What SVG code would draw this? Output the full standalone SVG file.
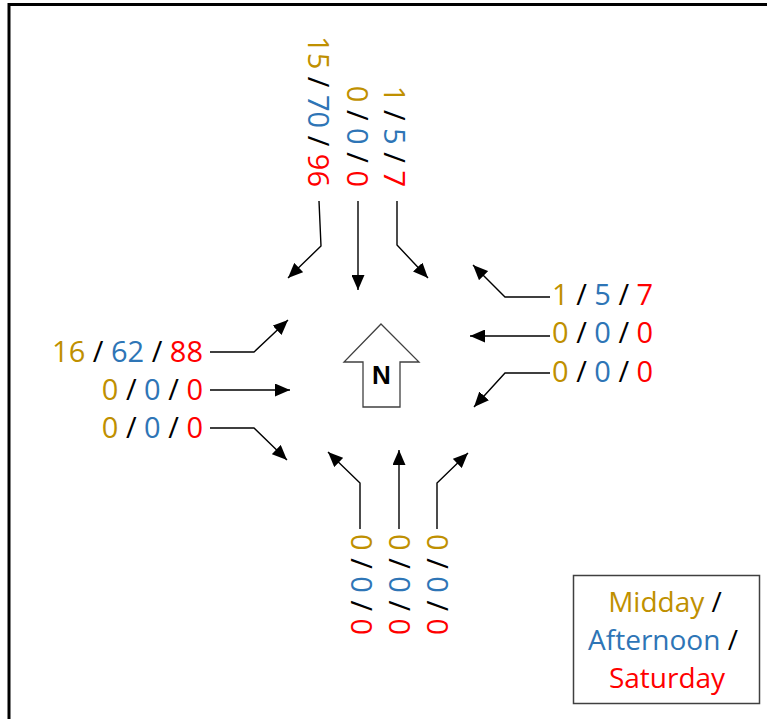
<svg xmlns="http://www.w3.org/2000/svg" width="767" height="719" viewBox="0 0 767 719">
  <defs>
    <marker id="head" viewBox="0 0 15 13" refX="15" refY="6.5" markerWidth="15" markerHeight="13" orient="auto" markerUnits="userSpaceOnUse">
      <path d="M0,0 L15,6.5 L0,13 Z" fill="#000"/>
    </marker>
    <style>
      .lbl { font-family: "Open Sans", "Liberation Sans", sans-serif; font-size: 29px; }
      .leg { font-family: "Open Sans", "Liberation Sans", sans-serif; font-size: 28px; }
      .g { fill: #BF9000; }
      .b { fill: #2E75B6; }
      .r { fill: #FF0000; }
      .k { fill: #000000; }
      .conn { fill: none; stroke: #000; stroke-width: 1.4; marker-end: url(#head); }
    </style>
  </defs>

  <rect width="767" height="719" fill="#ffffff"/>
  <!-- frame -->
  <path d="M9,719 V4.5 H767" fill="none" stroke="#000" stroke-width="3"/>

  <!-- north approach volumes (read top to bottom) -->
  <g id="north-left">
    <text class="lbl" transform="translate(308,187) rotate(90)" text-anchor="end"><tspan class="g">15</tspan><tspan class="k"> / </tspan><tspan class="b">70</tspan><tspan class="k"> / </tspan><tspan class="r">96</tspan></text>
  </g>
  <g id="north-through">
    <text class="lbl" transform="translate(347,187) rotate(90)" text-anchor="end"><tspan class="g">0</tspan><tspan class="k"> / </tspan><tspan class="b">0</tspan><tspan class="k"> / </tspan><tspan class="r">0</tspan></text>
  </g>
  <g id="north-right">
    <text class="lbl" transform="translate(384,187) rotate(90)" text-anchor="end"><tspan class="g">1</tspan><tspan class="k"> / </tspan><tspan class="b">5</tspan><tspan class="k"> / </tspan><tspan class="r">7</tspan></text>
  </g>

  <!-- west approach volumes -->
  <g id="west-top">
    <text class="lbl" x="203" y="362" text-anchor="end"><tspan class="g">16</tspan><tspan class="k"> / </tspan><tspan class="b">62</tspan><tspan class="k"> / </tspan><tspan class="r">88</tspan></text>
  </g>
  <g id="west-through">
    <text class="lbl" x="203" y="400" text-anchor="end"><tspan class="g">0</tspan><tspan class="k"> / </tspan><tspan class="b">0</tspan><tspan class="k"> / </tspan><tspan class="r">0</tspan></text>
  </g>
  <g id="west-bottom">
    <text class="lbl" x="203" y="438" text-anchor="end"><tspan class="g">0</tspan><tspan class="k"> / </tspan><tspan class="b">0</tspan><tspan class="k"> / </tspan><tspan class="r">0</tspan></text>
  </g>

  <!-- east approach volumes -->
  <g id="east-top">
    <text class="lbl" x="552" y="305"><tspan class="g">1</tspan><tspan class="k"> / </tspan><tspan class="b">5</tspan><tspan class="k"> / </tspan><tspan class="r">7</tspan></text>
  </g>
  <g id="east-through">
    <text class="lbl" x="552" y="343"><tspan class="g">0</tspan><tspan class="k"> / </tspan><tspan class="b">0</tspan><tspan class="k"> / </tspan><tspan class="r">0</tspan></text>
  </g>
  <g id="east-bottom">
    <text class="lbl" x="552" y="382"><tspan class="g">0</tspan><tspan class="k"> / </tspan><tspan class="b">0</tspan><tspan class="k"> / </tspan><tspan class="r">0</tspan></text>
  </g>

  <!-- south approach volumes -->
  <g id="south-left">
    <text class="lbl" transform="translate(351,534) rotate(90)"><tspan class="g">0</tspan><tspan class="k"> / </tspan><tspan class="b">0</tspan><tspan class="k"> / </tspan><tspan class="r">0</tspan></text>
  </g>
  <g id="south-through">
    <text class="lbl" transform="translate(389,534) rotate(90)"><tspan class="g">0</tspan><tspan class="k"> / </tspan><tspan class="b">0</tspan><tspan class="k"> / </tspan><tspan class="r">0</tspan></text>
  </g>
  <g id="south-right">
    <text class="lbl" transform="translate(427,534) rotate(90)"><tspan class="g">0</tspan><tspan class="k"> / </tspan><tspan class="b">0</tspan><tspan class="k"> / </tspan><tspan class="r">0</tspan></text>
  </g>

  <!-- north arrow -->
  <g id="north-arrow">
    <path d="M381,324 L419,362 L400,362 L400,407 L363,407 L363,362 L344,362 Z" fill="#fff" stroke="#404040" stroke-width="1.3"/>
    <text x="381.5" y="384" text-anchor="middle" font-family="'Liberation Sans', Arial, sans-serif" font-weight="bold" font-size="26" fill="#000">N</text>
  </g>

  <!-- legend -->
  <g id="legend">
    <rect x="573.5" y="575.5" width="186" height="128" fill="#fff" stroke="#404040" stroke-width="1.5"/>
    <text class="leg" x="665" y="612" text-anchor="middle"><tspan class="g">Midday</tspan><tspan class="k"> /</tspan></text>
    <text class="leg" x="663" y="650" text-anchor="middle"><tspan class="b">Afternoon</tspan><tspan class="k"> /</tspan></text>
    <text class="leg r" x="667" y="688" text-anchor="middle">Saturday</text>
  </g>

  <!-- turning movement connectors -->
  <g id="connectors">
    <path class="conn" d="M319,201 L321,246 L288,278"/>
    <path class="conn" d="M358,201 L358,290"/>
    <path class="conn" d="M397,201 L397,245 L428,278"/>

    <path class="conn" d="M210,352 L254,352 L288,320"/>
    <path class="conn" d="M210,390 L290,390"/>
    <path class="conn" d="M210,428 L254,428 L287,460"/>

    <path class="conn" d="M550,297 L505,297 L473,265"/>
    <path class="conn" d="M550,336 L470,336"/>
    <path class="conn" d="M550,373 L505,373 L474,407"/>

    <path class="conn" d="M360,529 L360,483 L328,452"/>
    <path class="conn" d="M399,529 L399,450"/>
    <path class="conn" d="M437,529 L437,483 L468,453"/>
  </g>
</svg>
